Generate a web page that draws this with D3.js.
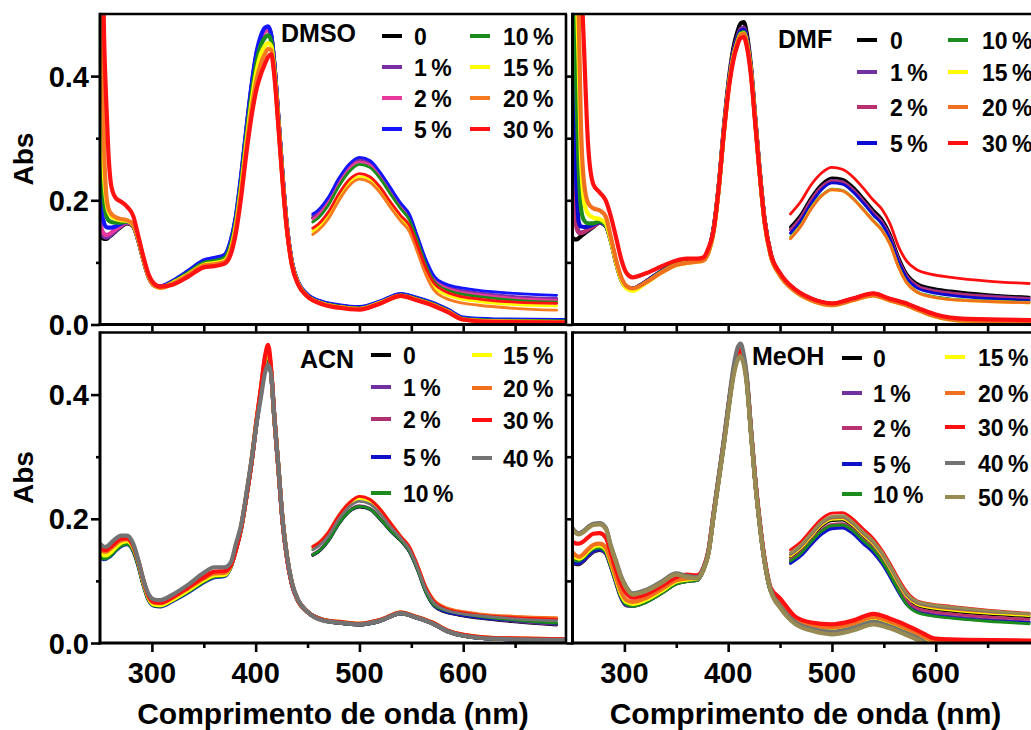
<!DOCTYPE html>
<html>
<head>
<meta charset="utf-8">
<script src="https://cdn.jsdelivr.net/npm/d3@7/dist/d3.min.js"></script>
<style>
  body { margin: 0; background: #fff; }
  text { font-family: "Liberation Sans", Arial, sans-serif; font-weight: bold; fill: #000; }
</style>
</head>
<body>
<svg id="chart" width="1031" height="730"></svg>
<script>
// Wavelength grids (nm): full spectra and the enlarged Q-band traces
const wlMain = [250,252,254,256,258,261,265,270,276,282,287,292,297,302,
                308,320,335,350,360,370,
                376,381,386,391,396,401,405,409,412,415,418,422,426,430,435,441,
                450,465,480,500,520,540,555,570,585,600,630,700];
const wlQ = [455,460,470,480,490,500,510,520,530,540,548,556,564,572,582,595,615,650,690];

// Axis ticks
const yMajor = [0, 0.2, 0.4];
const yMinor = [0.1, 0.3];
const xMajor = [300, 400, 500, 600];
const xMinor = [350, 450, 550, 650];

// ---------- DMSO ----------
const dmsoLabels = ["0", "1 %", "2 %", "5 %", "10 %", "15 %", "20 %", "30 %"];
const dmsoColors = ["#000000", "#7a2fa6", "#e8389e", "#1414ff", "#1b8c1b", "#ffff00", "#f57a20", "#ff1212"];
const dmsoMain = [
  [.145,.140,.138,.138,.140,.144,.150,.157,.163,.158,.135,.103,.076,.063, .061,.069,.085,.102,.106,.111,
   .133,.172,.236,.311,.381,.436,.462,.476,.478,.465,.419,.330,.237,.159,.099,.067,
   .047,.035,.030,.027,.036,.048,.042,.034,.023,.010,.007,.006],
  [.152,.145,.141,.140,.141,.145,.151,.158,.164,.158,.135,.103,.076,.063, .061,.069,.085,.101,.105,.110,
   .132,.171,.235,.310,.380,.435,.460,.474,.476,.463,.418,.329,.237,.159,.099,.067,
   .047,.035,.030,.027,.036,.048,.042,.034,.023,.010,.007,.006],
  [.165,.152,.146,.144,.145,.148,.153,.159,.165,.158,.135,.103,.076,.063, .061,.069,.084,.100,.104,.109,
   .131,.170,.233,.308,.378,.432,.458,.472,.474,.462,.417,.328,.236,.158,.098,.067,
   .046,.035,.030,.027,.036,.048,.042,.034,.023,.010,.006,.005],
  [.210,.178,.163,.157,.156,.156,.158,.162,.166,.159,.136,.104,.077,.064, .061,.070,.086,.103,.107,.112,
   .135,.175,.240,.315,.385,.440,.465,.478,.480,.466,.420,.330,.238,.160,.100,.068,
   .048,.036,.031,.028,.037,.049,.043,.035,.024,.011,.008,.007],
  [.300,.235,.195,.176,.168,.165,.164,.164,.166,.159,.136,.104,.077,.064, .060,.068,.083,.099,.102,.107,
   .128,.166,.228,.302,.370,.424,.450,.462,.466,.456,.413,.326,.234,.157,.098,.066,
   .046,.034,.029,.026,.035,.047,.041,.033,.022,.009,.006,.005],
  [.420,.310,.235,.200,.182,.174,.170,.168,.167,.160,.137,.104,.077,.063, .059,.067,.081,.096,.099,.103,
   .122,.160,.220,.292,.358,.410,.436,.449,.453,.448,.408,.323,.232,.156,.097,.066,
   .045,.033,.028,.025,.035,.046,.040,.032,.021,.008,.005,.004],
  [.750,.450,.280,.210,.188,.178,.173,.170,.168,.161,.138,.105,.077,.063, .059,.066,.080,.095,.097,.101,
   .119,.155,.213,.284,.347,.395,.420,.436,.444,.442,.404,.320,.230,.155,.096,.065,
   .045,.033,.028,.025,.034,.046,.040,.032,.021,.008,.005,.004],
  [.850,.650,.460,.360,.280,.222,.204,.198,.190,.175,.142,.108,.080,.066, .061,.064,.077,.092,.094,.098,
   .113,.148,.205,.275,.335,.380,.403,.420,.431,.435,.400,.316,.228,.154,.095,.064,
   .045,.032,.027,.024,.034,.046,.039,.031,.020,.008,.004,.003]
];
const dmsoQ = [
  [.172,.178,.199,.229,.253,.264,.259,.241,.216,.190,.173,.138,.100,.073,.061,.054,.049,.043,.040],
  [.175,.181,.202,.232,.256,.266,.261,.243,.218,.193,.176,.140,.102,.075,.063,.056,.051,.045,.042],
  [.170,.176,.197,.227,.251,.262,.257,.239,.214,.189,.172,.137,.099,.072,.060,.053,.048,.042,.039],
  [.178,.184,.205,.235,.258,.269,.264,.245,.220,.195,.178,.142,.105,.078,.066,.060,.055,.050,.047],
  [.165,.171,.192,.222,.246,.258,.253,.235,.210,.186,.169,.134,.096,.069,.057,.050,.045,.039,.036],
  [.150,.156,.176,.205,.228,.238,.234,.217,.193,.171,.155,.122,.086,.060,.049,.042,.037,.032,.030],
  [.145,.151,.170,.199,.223,.234,.229,.212,.188,.166,.150,.116,.080,.055,.043,.036,.031,.026,.023],
  [.155,.161,.181,.210,.233,.243,.238,.221,.197,.175,.160,.127,.091,.066,.054,.046,.041,.036,.034]
];

// ---------- DMF ----------
const dmfLabels = ["0", "1 %", "2 %", "5 %", "10 %", "15 %", "20 %", "30 %"];
const dmfColors = ["#000000", "#7030a0", "#b8306e", "#0a0ad2", "#1b8c1b", "#ffff00", "#f07020", "#ff1010"];
const dmfMain = [
  [.140,.137,.137,.139,.142,.146,.151,.157,.164,.159,.135,.100,.072,.060, .058,.068,.085,.098,.101,.103,
   .105,.118,.155,.225,.320,.400,.445,.472,.485,.487,.468,.415,.335,.255,.170,.113,
   .081,.055,.041,.033,.041,.049,.041,.034,.024,.015,.008,.006],
  [.260,.200,.165,.150,.148,.149,.153,.158,.164,.159,.135,.100,.072,.060, .058,.068,.085,.098,.101,.103,
   .105,.118,.154,.223,.316,.395,.438,.464,.476,.478,.460,.410,.332,.253,.169,.113,
   .081,.055,.041,.033,.041,.049,.041,.034,.024,.015,.008,.006],
  [.220,.175,.155,.148,.147,.149,.153,.158,.164,.159,.135,.100,.072,.060, .058,.068,.085,.098,.101,.103,
   .105,.118,.154,.222,.315,.394,.437,.462,.474,.476,.459,.410,.332,.253,.169,.113,
   .081,.055,.041,.033,.041,.049,.041,.034,.024,.015,.008,.006],
  [.447,.330,.220,.165,.158,.157,.158,.161,.165,.159,.135,.100,.072,.060, .058,.068,.085,.098,.101,.103,
   .105,.118,.153,.222,.315,.393,.436,.461,.473,.475,.458,.409,.331,.252,.168,.112,
   .080,.054,.040,.032,.040,.048,.040,.033,.023,.014,.007,.005],
  [.600,.500,.360,.250,.190,.168,.163,.163,.166,.160,.135,.100,.073,.060, .057,.067,.084,.097,.100,.102,
   .104,.117,.152,.221,.313,.390,.432,.457,.469,.471,.455,.407,.330,.251,.167,.112,
   .080,.054,.040,.032,.040,.048,.040,.033,.023,.014,.007,.005],
  [.900,.750,.550,.420,.280,.200,.178,.172,.170,.163,.135,.100,.072,.058, .054,.066,.083,.096,.099,.101,
   .103,.116,.150,.220,.312,.389,.431,.455,.467,.469,.453,.406,.329,.250,.166,.111,
   .079,.053,.039,.031,.039,.047,.039,.032,.022,.013,.006,.004],
  [1.00,.900,.700,.500,.330,.230,.196,.187,.184,.174,.140,.104,.076,.062, .058,.067,.083,.096,.099,.101,
   .103,.116,.150,.220,.311,.388,.430,.454,.466,.468,.452,.406,.329,.250,.166,.111,
   .079,.053,.039,.031,.039,.047,.039,.032,.022,.013,.006,.004],
  [1.00,.950,.850,.700,.580,.450,.290,.226,.213,.200,.174,.140,.105,.083, .076,.082,.093,.103,.106,.106,
   .108,.123,.152,.222,.312,.385,.425,.450,.461,.463,.447,.400,.325,.250,.168,.114,
   .083,.056,.042,.034,.042,.050,.042,.035,.025,.016,.009,.007]
];
const dmfQ = [
  [null,.157,.177,.205,.226,.236,.234,.222,.204,.184,.170,.146,.110,.082,.066,.059,.054,.048,.044],
  [null,.153,.173,.201,.222,.232,.230,.218,.200,.180,.166,.142,.106,.079,.063,.056,.051,.046,.042],
  [null,.152,.172,.200,.221,.231,.229,.217,.199,.179,.165,.141,.105,.078,.062,.055,.050,.045,.041],
  [null,.147,.167,.195,.217,.228,.226,.214,.196,.176,.162,.138,.102,.075,.059,.052,.047,.042,.039],
  [null,.140,.160,.188,.208,.218,.216,.204,.186,.167,.153,.130,.094,.068,.053,.046,.041,.038,.036],
  [null,.139,.159,.187,.207,.217,.215,.203,.185,.166,.152,.129,.093,.067,.052,.045,.040,.037,.035],
  [null,.138,.158,.186,.207,.217,.215,.203,.185,.166,.152,.129,.093,.067,.052,.045,.040,.037,.035],
  [null,.178,.198,.225,.244,.253,.250,.238,.220,.200,.186,.162,.126,.102,.088,.081,.076,.070,.066]
];

// ---------- ACN ----------
const acnLabels = ["0", "1 %", "2 %", "5 %", "10 %", "15 %", "20 %", "30 %", "40 %"];
const acnColors = ["#000000", "#7030a0", "#b03070", "#1010c8", "#1b8c1b", "#ffff00", "#f07020", "#ff1010", "#737373"];
const acnMain = [
  [.140,.138,.137,.138,.140,.144,.151,.158,.161,.151,.127,.095,.071,.062, .061,.070,.084,.100,.108,.110,
   .124,.152,.186,.236,.292,.358,.405,.450,.464,.433,.362,.280,.196,.140,.095,.068,
   .050,.037,.033,.030,.036,.048,.041,.032,.019,.012,.007,.005],
  [.142,.140,.139,.140,.142,.146,.153,.159,.162,.152,.128,.096,.071,.062, .061,.070,.084,.100,.108,.110,
   .124,.152,.186,.236,.292,.358,.406,.451,.465,.434,.362,.280,.196,.140,.095,.068,
   .050,.037,.033,.030,.036,.048,.041,.032,.019,.012,.007,.005],
  [.145,.143,.141,.141,.143,.147,.154,.160,.163,.153,.129,.097,.072,.063, .062,.071,.085,.101,.109,.110,
   .124,.152,.187,.237,.293,.359,.407,.452,.466,.435,.363,.281,.196,.140,.095,.068,
   .050,.037,.033,.030,.036,.048,.041,.032,.019,.012,.007,.005],
  [.138,.136,.135,.136,.138,.142,.149,.156,.159,.149,.125,.093,.069,.060, .059,.068,.082,.098,.106,.108,
   .123,.151,.185,.235,.291,.357,.404,.449,.463,.432,.361,.279,.195,.139,.094,.067,
   .050,.037,.033,.030,.036,.048,.041,.032,.019,.012,.007,.005],
  [.139,.137,.136,.137,.139,.143,.150,.157,.160,.150,.126,.094,.070,.061, .060,.069,.083,.099,.107,.109,
   .123,.151,.185,.235,.291,.357,.405,.450,.464,.433,.362,.280,.196,.140,.095,.068,
   .050,.037,.033,.030,.036,.048,.041,.032,.019,.012,.007,.005],
  [.145,.143,.141,.141,.143,.147,.154,.161,.164,.154,.130,.097,.072,.062, .061,.070,.085,.101,.109,.110,
   .124,.152,.187,.237,.293,.360,.408,.455,.470,.436,.363,.281,.197,.141,.096,.068,
   .050,.037,.034,.031,.037,.049,.042,.033,.020,.013,.008,.006],
  [.152,.149,.147,.147,.149,.153,.159,.165,.167,.156,.131,.099,.074,.065, .064,.073,.088,.104,.112,.113,
   .125,.153,.188,.238,.294,.361,.409,.457,.472,.437,.364,.281,.197,.141,.096,.068,
   .050,.037,.034,.031,.037,.049,.042,.033,.020,.013,.008,.006],
  [.155,.152,.150,.150,.152,.156,.162,.168,.169,.157,.132,.100,.075,.066, .065,.074,.090,.106,.115,.116,
   .125,.150,.185,.235,.290,.360,.410,.462,.480,.440,.365,.280,.195,.140,.095,.068,
   .050,.037,.034,.031,.037,.049,.042,.033,.020,.013,.008,.006],
  [.160,.157,.155,.155,.157,.162,.168,.173,.173,.160,.133,.101,.078,.070, .069,.078,.094,.113,.122,.122,
   .130,.160,.190,.240,.295,.355,.395,.435,.448,.432,.365,.283,.198,.142,.097,.069,
   .050,.036,.033,.030,.036,.048,.041,.032,.019,.012,.007,.005]
];
const acnQ = [
  [.141,.146,.164,.191,.211,.219,.215,.199,.180,.164,.147,.117,.081,.059,.050,.045,.040,.034,.029],
  [.142,.147,.165,.192,.212,.220,.216,.200,.181,.165,.148,.118,.082,.060,.051,.046,.041,.035,.030],
  [.143,.148,.166,.193,.213,.221,.217,.201,.182,.166,.149,.119,.083,.061,.052,.047,.042,.036,.031],
  [.142,.147,.165,.192,.212,.220,.216,.200,.181,.165,.148,.118,.082,.060,.051,.046,.041,.036,.031],
  [.142,.147,.165,.192,.212,.220,.216,.200,.181,.165,.148,.118,.082,.061,.053,.048,.043,.037,.032],
  [.152,.157,.175,.202,.222,.232,.228,.212,.190,.169,.153,.123,.088,.066,.055,.049,.045,.041,.039],
  [.156,.161,.179,.206,.226,.236,.232,.216,.194,.172,.156,.126,.091,.069,.058,.052,.047,.043,.041],
  [.155,.160,.178,.205,.225,.236,.231,.215,.193,.171,.155,.125,.090,.067,.056,.050,.045,.041,.038],
  [.150,.155,.172,.199,.219,.228,.224,.208,.187,.168,.151,.121,.086,.064,.054,.048,.044,.039,.036]
];

// ---------- MeOH ----------
const meohLabels = ["0", "1 %", "2 %", "5 %", "10 %", "15 %", "20 %", "30 %", "40 %", "50 %"];
const meohColors = ["#000000", "#7030a0", "#b8306e", "#1010c8", "#1b8c1b", "#ffff00", "#f07020", "#ff1010", "#737373", "#978a52"];
const meohMain = [
  [.130,.128,.127,.127,.129,.133,.140,.147,.150,.145,.124,.098,.073,.061, .060,.066,.080,.096,.100,.102,
   .118,.146,.207,.266,.325,.389,.435,.464,.470,.456,.422,.340,.262,.198,.133,.085,
   .064,.036,.027,.023,.029,.040,.033,.023,.011,.002,.001,.001],
  [.131,.129,.128,.128,.130,.134,.141,.148,.151,.145,.124,.098,.073,.061, .060,.066,.080,.096,.100,.102,
   .118,.146,.207,.266,.325,.389,.435,.464,.470,.456,.422,.340,.262,.198,.133,.085,
   .064,.036,.027,.023,.029,.040,.033,.023,.011,.002,.001,.001],
  [.133,.131,.130,.130,.132,.136,.143,.150,.152,.146,.125,.099,.074,.062, .061,.067,.081,.097,.101,.103,
   .118,.146,.207,.266,.325,.389,.435,.464,.470,.456,.422,.340,.262,.198,.133,.085,
   .064,.036,.027,.023,.029,.040,.033,.023,.011,.002,.001,.001],
  [.132,.130,.129,.129,.131,.135,.142,.149,.151,.146,.125,.099,.074,.062, .061,.067,.081,.097,.101,.103,
   .118,.146,.206,.265,.324,.388,.434,.463,.469,.455,.421,.340,.262,.198,.133,.085,
   .064,.036,.027,.023,.029,.040,.033,.023,.011,.002,.001,.001],
  [.136,.134,.133,.133,.135,.139,.146,.152,.154,.148,.126,.100,.075,.063, .060,.066,.080,.096,.100,.102,
   .117,.145,.205,.264,.323,.387,.433,.462,.468,.454,.420,.339,.261,.197,.132,.084,
   .064,.036,.027,.023,.029,.040,.033,.023,.011,.002,.001,.001],
  [.141,.139,.137,.136,.137,.141,.148,.155,.157,.151,.129,.103,.078,.066, .063,.069,.083,.099,.102,.104,
   .118,.146,.207,.266,.325,.389,.436,.465,.471,.457,.423,.341,.263,.199,.134,.086,
   .065,.037,.028,.024,.030,.041,.034,.024,.012,.002,.001,.001],
  [.146,.143,.140,.139,.140,.144,.151,.158,.160,.154,.132,.106,.082,.069, .066,.072,.086,.101,.104,.105,
   .119,.147,.208,.267,.326,.390,.437,.466,.472,.458,.424,.342,.264,.200,.135,.087,
   .066,.038,.029,.025,.031,.042,.035,.025,.013,.003,.002,.002],
  [.163,.161,.160,.160,.161,.164,.170,.176,.177,.170,.145,.118,.094,.080, .073,.078,.091,.106,.110,.109,
   .121,.149,.210,.268,.327,.390,.436,.466,.472,.458,.425,.344,.266,.202,.137,.089,
   .072,.042,.033,.030,.036,.047,.040,.030,.018,.007,.005,.004],
  [.185,.181,.178,.177,.178,.181,.187,.192,.193,.186,.157,.132,.107,.090, .080,.085,.098,.112,.108,.106,
   .120,.148,.210,.270,.330,.395,.443,.475,.482,.465,.430,.345,.265,.200,.135,.086,
   .060,.033,.023,.018,.024,.034,.027,.017,.006,-.008,-.010,-.010],
  [.183,.179,.176,.175,.176,.179,.185,.190,.191,.184,.155,.130,.105,.088, .078,.083,.096,.110,.106,.104,
   .117,.144,.204,.262,.320,.383,.428,.455,.461,.448,.415,.336,.259,.196,.132,.084,
   .057,.030,.020,.014,.020,.030,.024,.014,.003,-.010,-.010,-.010]
];
const meohQ = [
  [null,.138,.151,.170,.188,.197,.198,.188,.172,.157,.140,.118,.094,.073,.060,.055,.051,.046,.042],
  [null,.130,.142,.160,.177,.186,.187,.178,.162,.147,.130,.108,.084,.064,.052,.047,.043,.038,.034],
  [null,.134,.146,.165,.182,.191,.192,.183,.167,.152,.135,.113,.089,.068,.056,.051,.047,.042,.038],
  [null,.128,.140,.158,.175,.184,.185,.176,.160,.145,.128,.106,.082,.062,.050,.045,.041,.036,.033],
  [null,.132,.144,.163,.180,.189,.190,.181,.165,.150,.132,.110,.085,.062,.049,.044,.040,.035,.031],
  [null,.140,.153,.172,.190,.199,.200,.190,.174,.159,.142,.120,.096,.075,.062,.057,.053,.048,.044],
  [null,.142,.155,.174,.192,.201,.202,.192,.176,.161,.144,.122,.098,.077,.064,.059,.055,.050,.046],
  [null,.150,.163,.182,.200,.209,.210,.200,.184,.168,.150,.128,.104,.083,.068,.063,.059,.053,.048],
  [null,.143,.156,.175,.193,.202,.203,.193,.177,.162,.145,.123,.099,.078,.065,.060,.056,.051,.047],
  [null,.145,.158,.177,.195,.204,.205,.195,.179,.164,.147,.125,.101,.080,.067,.062,.058,.052,.047]
];

// ---------- layout ----------
const svg = d3.select("#chart");
const panelW = 467, panelH = 310.5;

const panels = [
  { title: "DMSO", labels: dmsoLabels, colors: dmsoColors, main: dmsoMain, q: dmsoQ,
    left: 100, top: 14, yText: true, xText: false,
    legend: { title: [281, 42], cols: [{ sx: 382, tx: 414, rows: [36, 67, 98, 129] },
                                        { sx: 470, tx: 503, rows: [36, 67, 98, 129] }] } },
  { title: "DMF", labels: dmfLabels, colors: dmfColors, main: dmfMain, q: dmfQ,
    left: 572.5, top: 14, yText: false, xText: false,
    legend: { title: [778, 48], cols: [{ sx: 857, tx: 890, rows: [40, 72, 107, 143] },
                                        { sx: 948, tx: 982, rows: [40, 72, 107, 143] }] } },
  { title: "ACN", labels: acnLabels, colors: acnColors, main: acnMain, q: acnQ,
    left: 100, top: 332.5, yText: true, xText: true,
    legend: { title: [300, 368], cols: [{ sx: 371, tx: 403, rows: [355, 387, 419, 457, 493] },
                                         { sx: 472, tx: 503, rows: [355, 388, 420, 458] }] } },
  { title: "MeOH", labels: meohLabels, colors: meohColors, main: meohMain, q: meohQ,
    left: 572.5, top: 332.5, yText: false, xText: true,
    legend: { title: [752, 365], cols: [{ sx: 842, tx: 873, rows: [358, 393, 428, 464, 494] },
                                         { sx: 945, tx: 978, rows: [357, 393, 427, 463, 497] }] } }
];

panels.forEach((p, pi) => {
  const x = d3.scaleLinear().domain([250, 700]).range([p.left, p.left + panelW]);
  const y = d3.scaleLinear().domain([0, 0.5]).range([p.top + panelH, p.top]);
  const bottom = p.top + panelH;

  const clipId = "clip" + pi;
  svg.append("clipPath").attr("id", clipId)
    .append("rect").attr("x", p.left).attr("y", p.top).attr("width", panelW).attr("height", panelH);

  const plot = svg.append("g").attr("clip-path", `url(#${clipId})`);
  const line = d3.line()
    .defined(d => d[1] != null)
    .x(d => x(d[0])).y(d => y(d[1]))
    .curve(d3.curveMonotoneX);

  // full spectra
  p.main.forEach((vals, i) => {
    plot.append("path")
      .attr("d", line(wlMain.map((w, j) => [w, vals[j]])))
      .attr("fill", "none").attr("stroke", p.colors[i])
      .attr("stroke-width", 4.2).attr("stroke-linejoin", "round").attr("stroke-linecap", "round");
  });
  // enlarged Q-band traces
  p.q.forEach((vals, i) => {
    plot.append("path")
      .attr("d", line(wlQ.map((w, j) => [w, vals[j]])))
      .attr("fill", "none").attr("stroke", p.colors[i])
      .attr("stroke-width", 2.8).attr("stroke-linejoin", "round").attr("stroke-linecap", "round");
  });

  // frame
  const frame = svg.append("g").attr("stroke", "#000").attr("fill", "none");
  frame.append("line").attr("x1", p.left).attr("x2", p.left + panelW).attr("y1", p.top).attr("y2", p.top).attr("stroke-width", 2.6);
  frame.append("line").attr("x1", p.left + panelW - 1).attr("x2", p.left + panelW - 1).attr("y1", p.top).attr("y2", bottom).attr("stroke-width", 2.6);
  frame.append("line").attr("x1", p.left).attr("x2", p.left).attr("y1", p.top - 1.3).attr("y2", bottom + 1.5).attr("stroke-width", 3);
  frame.append("line").attr("x1", p.left - 1.5).attr("x2", p.left + panelW).attr("y1", bottom).attr("y2", bottom).attr("stroke-width", 3);

  // y ticks
  const yTickLen = p.yText ? 9 : 6;
  const gy = svg.append("g").attr("transform", `translate(${p.left},0)`);
  gy.call(d3.axisLeft(y).tickValues(yMajor).tickSize(yTickLen).tickFormat(""));
  gy.append("g").call(d3.axisLeft(y).tickValues(yMinor).tickSize(p.yText ? 4 : 6).tickFormat(""));
  gy.selectAll(".domain").remove();
  gy.selectAll("line").attr("stroke", "#000").attr("stroke-width", 2.6);

  if (p.yText) {
    svg.append("g").selectAll("text").data(yMajor).join("text")
      .attr("x", p.left - 11).attr("y", d => y(d) + 10.5)
      .attr("text-anchor", "end").attr("font-size", 29)
      .text(d3.format(".1f"));
    svg.append("text")
      .attr("transform", `translate(33,${p.top + 145}) rotate(-90)`)
      .attr("text-anchor", "middle").attr("font-size", 28).text("Abs");
  }

  // x ticks
  const gx = svg.append("g").attr("transform", `translate(0,${bottom})`);
  if (p.xText) {
    gx.call(d3.axisBottom(x).tickValues(xMajor).tickSize(9).tickFormat(""));
    gx.append("g").call(d3.axisBottom(x).tickValues(xMinor).tickSize(5).tickFormat(""));
  } else {
    gx.call(d3.axisBottom(x).tickValues(xMajor.concat(xMinor)).tickSize(7).tickFormat(""));
  }
  gx.selectAll(".domain").remove();
  gx.selectAll("line").attr("stroke", "#000").attr("stroke-width", 2.6);

  if (p.xText) {
    svg.append("g").selectAll("text").data(xMajor).join("text")
      .attr("x", d => x(d)).attr("y", bottom + 40)
      .attr("text-anchor", "middle").attr("font-size", 29)
      .text(d => d);
    svg.append("text")
      .attr("x", p.left + 233).attr("y", 724)
      .attr("text-anchor", "middle").attr("font-size", 30)
      .text("Comprimento de onda (nm)");
  }

  // legend
  const lg = svg.append("g");
  lg.append("text").attr("x", p.legend.title[0]).attr("y", p.legend.title[1])
    .attr("font-size", 25).text(p.title);
  let k = 0;
  p.legend.cols.forEach(col => {
    col.rows.forEach(ry => {
      const i = k++;
      if (i >= p.labels.length) return;
      lg.append("line").attr("x1", col.sx).attr("x2", col.sx + 20)
        .attr("y1", ry).attr("y2", ry)
        .attr("stroke", p.colors[i]).attr("stroke-width", 4);
      lg.append("text").attr("x", col.tx).attr("y", ry + 8.5)
        .attr("font-size", 23).attr("word-spacing", "-2px")
        .text(p.labels[i]);
    });
  });
});
</script>
</body>
</html>
